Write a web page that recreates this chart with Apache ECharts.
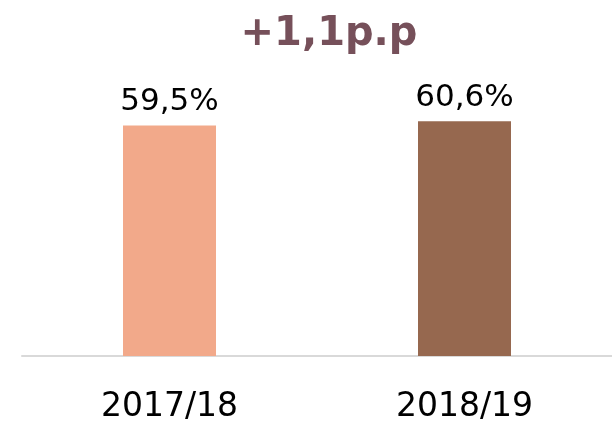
<!DOCTYPE html>
<html>
<head>
<meta charset="utf-8">
<script src="https://cdn.jsdelivr.net/npm/echarts@6/dist/echarts.min.js"></script>
<style>
    html, body { margin: 0; padding: 0; background: #fff; }
    #chart { width: 612px; height: 424px; }
</style>
</head>
<body>
<div id="chart"></div>
<script>
    // values
    const seasons = ['2017/18', '2018/19'];
    const shares = [59.5, 60.6];
    const barColors = ['#f2a98a', '#96684f'];
    const changeLabel = '+1,1p.p';

    const fmt = v => v.toFixed(1).replace('.', ',') + '%';

    const myChart = echarts.init(document.getElementById('chart'));
    myChart.setOption({
        animation: false,
        title: {
            text: changeLabel,
            left: 324,
            top: 10,
            textAlign: 'center',
            textStyle: {
                fontFamily: 'DejaVu Sans',
                fontSize: 40,
                fontWeight: 'bold',
                color: '#76505a'
            }
        },
        grid: { left: 22, right: 0, top: 46, bottom: 67 },
        xAxis: {
            type: 'category',
            data: seasons,
            axisLine: { lineStyle: { color: '#d9d9d9', width: 2 } },
            axisTick: { show: false },
            axisLabel: {
                margin: 35,
                fontFamily: 'DejaVu Sans',
                fontSize: 33,
                color: '#000'
            }
        },
        yAxis: {
            type: 'value',
            min: 0,
            max: 80,
            show: false,
            splitLine: { show: false }
        },
        series: [{
            type: 'bar',
            barWidth: 93,
            data: shares.map((v, i) => ({ value: v, itemStyle: { color: barColors[i] } })),
            label: {
                show: true,
                position: 'top',
                distance: 8,
                formatter: p => fmt(p.value),
                fontFamily: 'DejaVu Sans',
                fontSize: 31,
                color: '#000'
            }
        }]
    });
</script>
</body>
</html>
